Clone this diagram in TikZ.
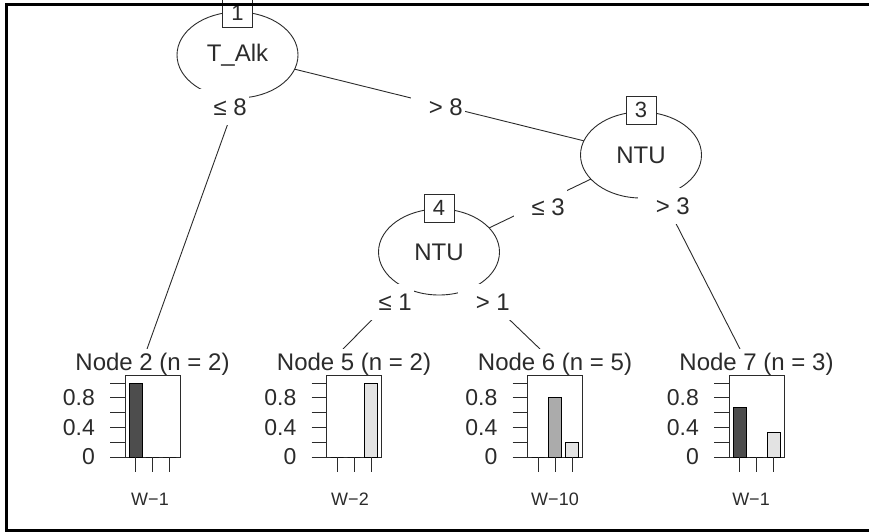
\documentclass[tikz,border=0pt]{standalone}
\usepackage{fontspec}
\setmainfont{Liberation Sans}
\usetikzlibrary{shapes.geometric,backgrounds}

\definecolor{ink}{HTML}{2B2B2B}
\definecolor{barA}{HTML}{4D4D4D}
\definecolor{barB}{HTML}{ABABAB}
\definecolor{barC}{HTML}{E3E3E3}

% one terminal panel: #1 name, #2 centre x, #3 title, #4-#6 bar heights,
% #7 axis label, #8 axis label x
\newcommand\termpanel[8]{%
  \node[ptitle] (#1) at (#2,364) {#3};
  \draw[pbox] (#2-27.5,375) rectangle (#2+27.5,457);
  \draw[pbar, fill=barA] (#2-23.5,457) rectangle (#2-10.5,457-74*#4);
  \draw[pbar, fill=barB] (#2-6.5,457) rectangle (#2+6.5,457-74*#5);
  \draw[pbar, fill=barC] (#2+10.5,457) rectangle (#2+23.5,457-74*#6);
  \foreach \v in {0,0.2,0.4,0.6,0.8,1}
    \draw[paxis] (#2-42.5,457-74*\v) -- (#2-27.5,457-74*\v);
  \foreach \u in {-17,0,17}
    \draw[paxis] (#2+\u,457) -- (#2+\u,472);
  \node[ylab] (#1y0) at (#2-57.5,457) {0};
  \node[ylab] (#1y4) at (#2-57.5,427.4) {0.4};
  \node[ylab] (#1y8) at (#2-57.5,397.8) {0.8};
  \node[xlab] (#1x) at (#8,499) {#7};
}

\begin{document}
\begin{tikzpicture}[x=1pt,y=-1pt,
  every node/.style={font=\fontsize{24}{28}\selectfont, text=ink},
  split/.style={ellipse, draw=ink, line width=0.9pt, fill=white,
    minimum width=121pt, minimum height=86pt, inner sep=0pt},
  idbox/.style={draw=ink, line width=0.9pt, fill=white, minimum width=30pt,
    minimum height=28pt, inner sep=0pt, font=\fontsize{22}{24}\selectfont},
  edgelab/.style={fill=white, inner xsep=2pt, inner ysep=0pt,
    minimum height=36pt, anchor=east},
  edgeline/.style={draw=ink, line width=0.9pt},
  ptitle/.style={fill=white, inner sep=1pt, minimum height=30pt},
  pbox/.style={draw=ink, line width=0.9pt, fill=white},
  pbar/.style={draw=black, line width=0.9pt},
  paxis/.style={draw=ink, line width=0.9pt},
  ylab/.style={anchor=east, inner sep=0pt, font=\fontsize{23}{27}\selectfont},
  xlab/.style={font=\fontsize{18}{21}\selectfont, inner sep=0pt},
]
\useasboundingbox (0,0) rectangle (869,532);

% inner (split) nodes
\node[split] (n1) at (237.5,55) {T\_Alk};
\node[split] (n3) at (641,155) {NTU};
\node[split] (n4) at (439,252) {NTU};
\node[idbox] (id1) at (237.5,13) {1};
\node[idbox] (id3) at (641,110) {3};
\node[idbox] (id4) at (439,208) {4};

% terminal panels
\termpanel{n2}{152.5}{Node 2 (n = 2)}{1}{0}{0}{W−1}{150}
\termpanel{n5}{354}{Node 5 (n = 2)}{0}{0}{1}{W−2}{350}
\termpanel{n6}{555}{Node 6 (n = 5)}{0}{0.8}{0.2}{W−10}{555}
\termpanel{n7}{756.5}{Node 7 (n = 3)}{0.667}{0}{0.333}{W−1}{751}

% where the edges meet the terminal panels
\coordinate (e2) at (147,349);
\coordinate (e5) at (343,349);
\coordinate (e6) at (540,349);
\coordinate (e7) at (740,349);

% edges, kept behind the nodes
\begin{pgfonlayer}{background}
  \draw[edgeline] ([xshift=15pt]n1.center) -- (e2);
  \draw[edgeline] (n1.center) -- (n3.center);
  \draw[edgeline] (n3.center) -- (n4.center);
  \draw[edgeline] (n3.center) -- (e7);
  \draw[edgeline] (n4.center) -- (e5);
  \draw[edgeline] (n4.center) -- (e6);
\end{pgfonlayer}

% edge labels
\node[edgelab] (l12) at (249,107) {\hspace*{16pt}≤ 8};
\node[edgelab] (l13) at (465,107) {\hspace*{16pt}> 8};
\node[edgelab] (l34) at (567,207) {\hspace*{16pt}≤ 3};
\node[edgelab] (l37) at (692,206) {\hspace*{16pt}> 3};
\node[edgelab] (l45) at (414,302) {\hspace*{16pt}≤ 1};
\node[edgelab] (l46) at (512,302) {\hspace*{16pt}> 1};

% outer frame
\draw[line width=3pt, black] (869,4.3) -- (6,4.3) -- (6,530) -- (869,530);
\end{tikzpicture}
\end{document}
